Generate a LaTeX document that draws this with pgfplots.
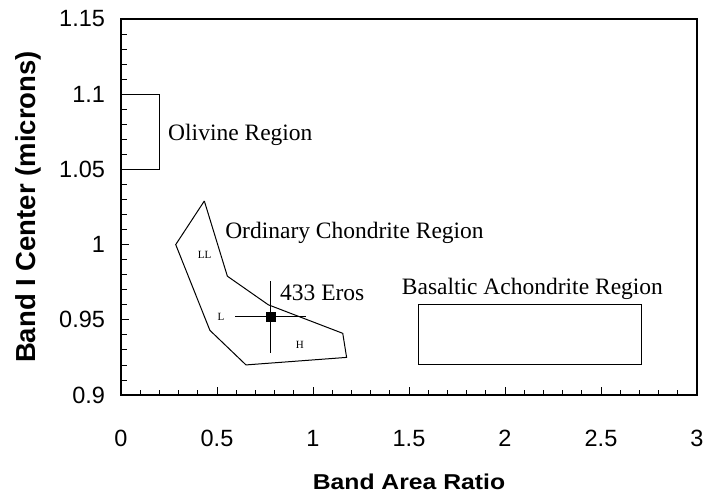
\documentclass[border=0pt]{standalone}
\usepackage{fontspec}
\setmainfont{Liberation Serif}
\newfontfamily\arial{Liberation Sans}
\newfontfamily\arialwide[FakeStretch=1.15]{Liberation Sans}
\usepackage{pgfplots}
\pgfplotsset{compat=1.18}

\begin{document}
\begin{tikzpicture}
\begin{axis}[
  name=main,
  scale only axis,
  width=576pt, height=376pt,
  xmin=0, xmax=3, ymin=0.9, ymax=1.15,
  axis line style={line width=2pt},
  xtick={0,0.5,1,1.5,2,2.5,3},
  xticklabels={0,0.5,1,1.5,2,2.5,3},
  ytick={0.9,0.95,1,1.05,1.1,1.15},
  yticklabels={0.9,0.95,1,1.05,1.1,1.15},
  minor x tick num=4, minor y tick num=4,
  tick align=inside,
  xtick pos=bottom, ytick pos=left,
  major tick length=8pt, minor tick length=5.5pt,
  every tick/.style={black, line width=0.8pt},
  xticklabel style={font=\arial\fontsize{23.5}{27}\selectfont, anchor=base, yshift=-51.4pt},
  yticklabel style={font=\arial\fontsize{23.5}{27}\selectfont, anchor=east, xshift=-12.5pt},
  xlabel={Band Area Ratio},
  ylabel={Band I Center (microns)},
  xlabel style={font=\arialwide\bfseries\fontsize{21.5}{25}\selectfont, at={(axis description cs:0.5,-0.232)}, anchor=center},
  ylabel style={font=\arial\bfseries\fontsize{27.5}{31}\selectfont, at={(axis description cs:-0.1606,0.5)}, anchor=center},
  clip=false,
]
% Olivine region
\addplot[black, line width=1pt] coordinates {(0,1.05) (0.2,1.05) (0.2,1.1) (0,1.1)};
% Basaltic achondrite region
\addplot[black, line width=1pt] coordinates {(1.55,0.92) (2.71,0.92) (2.71,0.96) (1.55,0.96) (1.55,0.92)};
% Ordinary chondrite region
\addplot[black, line width=1pt] coordinates {
  (0.434,1.029) (0.285,1.000) (0.463,0.943) (0.651,0.920)
  (1.175,0.925) (1.155,0.941) (0.767,0.960) (0.554,0.979) (0.434,1.029)};
% 433 Eros with error bars
\addplot[black, line width=1pt, mark=square*, mark size=4.7pt,
  error bars/.cd, x dir=both, x explicit, y dir=both, y explicit,
  error mark=none, error bar style={line width=1pt}]
  coordinates {(0.78,0.952) +- (0.184,0.024)};
% labels
\node[anchor=base west, inner sep=0pt, font=\fontsize{23.5}{27}\selectfont] at (axis cs:0.245,1.0691) {Olivine Region};
\node[anchor=base west, inner sep=0pt, font=\fontsize{23.5}{27}\selectfont] at (axis cs:0.542,1.0042) {Ordinary Chondrite Region};
\node[anchor=base west, inner sep=0pt, font=\fontsize{23.5}{27}\selectfont] at (axis cs:1.462,0.9665) {Basaltic Achondrite Region};
\node[anchor=base west, inner sep=0pt, font=\fontsize{23.5}{27}\selectfont] at (axis cs:0.828,0.9627) {433 Eros};
\node[inner sep=0pt, font=\fontsize{11}{13}\selectfont] at (axis cs:0.435,0.9934) {LL};
\node[inner sep=0pt, font=\fontsize{11}{13}\selectfont] at (axis cs:0.521,0.9519) {L};
\node[inner sep=0pt, font=\fontsize{11}{13}\selectfont] at (axis cs:0.932,0.9336) {H};
\end{axis}
% page margins around the axis
\path ([shift={(-121pt,-103pt)}]main.south west) rectangle ([shift={(12pt,19pt)}]main.north east);
\end{tikzpicture}
\end{document}
